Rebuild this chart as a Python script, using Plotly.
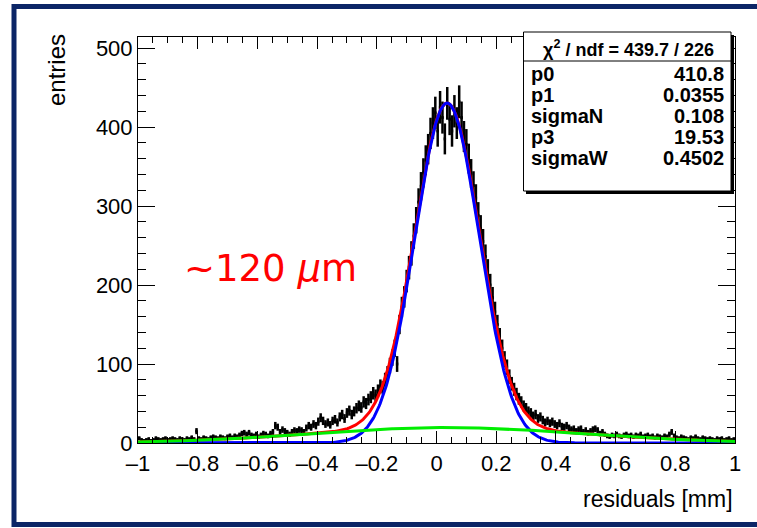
import numpy as np
import plotly.graph_objects as go

# ---------------- data ----------------
x_min, x_max, n_bins = -1.0, 1.0, 250
counts = [
    6, 4, 3, 4, 5, 3, 4, 6, 5, 4,
    5, 6, 4, 5, 6, 5, 4, 6, 5, 4,
    6, 5, 7, 5, 15, 6, 5, 7, 6, 5,
    7, 8, 7, 6, 8, 7, 6, 8, 9, 7,
    9, 8, 10, 12, 13, 11, 13, 10, 9, 11,
    8, 10, 12, 11, 9, 12, 14, 22, 20, 14,
    17, 15, 13, 11, 14, 16, 15, 17, 16, 14,
    19, 22, 20, 24, 22, 27, 32, 28, 24, 26,
    23, 28, 30, 26, 33, 36, 31, 38, 41, 36,
    40, 44, 47, 45, 52, 50, 55, 58, 63, 60,
    66, 72, 70, 80, 88, 98, 108, 120, 100, 150,
    172, 185, 205, 222, 240, 262, 282, 305, 325, 342,
    358, 372, 392, 405, 418, 395, 425, 412, 385, 430,
    410, 395, 420, 405, 432, 412, 388, 378, 360, 341,
    326, 310, 288, 272, 255, 236, 218, 200, 184, 166,
    150, 134, 120, 106, 96, 84, 75, 68, 62, 56,
    52, 47, 44, 40, 38, 34, 36, 31, 33, 29,
    26, 28, 25, 27, 24, 22, 25, 21, 20, 22,
    19, 17, 18, 15, 17, 18, 14, 16, 13, 15,
    17, 18, 16, 12, 14, 11, 9, 8, 10, 9,
    11, 9, 8, 10, 11, 9, 10, 8, 10, 9,
    11, 8, 9, 10, 8, 9, 7, 9, 8, 7,
    9, 8, 11, 14, 9, 7, 6, 8, 7, 6,
    5, 7, 6, 8, 6, 5, 7, 6, 5, 6,
    5, 4, 6, 5, 6, 4, 5, 6, 4, 5,
]

# fit parameters (from stats box)
p0 = 410.8
p1 = 0.0355
sigmaN = 0.108
p3 = 19.53
sigmaW = 0.4502

stat_header = "χ<sup>2</sup> / ndf = 439.7 / 226"
stat_names = ["p0", "p1", "sigmaN", "p3", "sigmaW"]
stat_values = ["410.8", "0.0355", "0.108", "19.53", "0.4502"]

x_ticks = [-1, -0.8, -0.6, -0.4, -0.2, 0, 0.2, 0.4, 0.6, 0.8, 1]
x_ticktext = ["\u20131", "\u20130.8", "\u20130.6", "\u20130.4", "\u20130.2", "0", "0.2", "0.4", "0.6", "0.8", "1"]
y_ticks = [0, 100, 200, 300, 400, 500]

# ---------------- derived ----------------
edges = np.linspace(x_min, x_max, n_bins + 1)
centers = 0.5 * (edges[:-1] + edges[1:])
cnt = np.array(counts, dtype=float)
err = np.sqrt(cnt)

xf = np.linspace(x_min, x_max, 600)
g_n = np.exp(-0.5 * ((xf - p1) / sigmaN) ** 2)
g_w = np.exp(-0.5 * ((xf - p1) / sigmaW) ** 2)
f_total = p0 * g_n + p3 * g_w
f_narrow = (p0 + p3) * g_n
f_wide = p3 * g_w

FONT = "Liberation Sans, Arial, Helvetica, sans-serif"

# plot-area geometry (pixels) for placing decorations
L, R, T, B = 138, 735, 37, 443
def px(x):
    return (x - L) / (R - L)
def py(y):
    return (B - y) / (B - T)

fig = go.Figure()

# histogram: horizontal bin lines + vertical error bars
hx, hy = [], []
for lo, hi, c in zip(edges[:-1], edges[1:], cnt):
    hx += [lo, hi, None]
    hy += [c, c, None]
fig.add_trace(go.Scatter(x=hx, y=hy, mode="lines",
                         line=dict(color="black", width=3), hoverinfo="skip"))
fig.add_trace(go.Scatter(x=centers, y=cnt, mode="markers",
                         marker=dict(size=2, color="black"),
                         error_y=dict(type="data", array=err, visible=True,
                                      color="black", thickness=2.5, width=0)))

fig.add_trace(go.Scatter(x=xf, y=f_total, mode="lines", line=dict(color="#ff0000", width=3)))
fig.add_trace(go.Scatter(x=xf, y=f_narrow, mode="lines", line=dict(color="#0000ff", width=3)))
fig.add_trace(go.Scatter(x=xf, y=f_wide, mode="lines", line=dict(color="#00ee00", width=3)))

shapes = []
# outer navy border
shapes.append(dict(type="rect", xref="paper", yref="paper",
                   x0=px(14), x1=px(762), y0=py(524.5), y1=py(6.5),
                   line=dict(color="#0b2566", width=5), fillcolor="rgba(0,0,0,0)", layer="above"))
# stats box shadow + box
shapes.append(dict(type="rect", xref="paper", yref="paper",
                   x0=px(526), x1=px(734), y0=py(194), y1=py(35),
                   line=dict(width=0), fillcolor="black", layer="above"))
shapes.append(dict(type="rect", xref="paper", yref="paper",
                   x0=px(523.5), x1=px(731), y0=py(191), y1=py(32),
                   line=dict(color="black", width=1), fillcolor="white", layer="above"))
shapes.append(dict(type="line", xref="paper", yref="paper",
                   x0=px(523.5), x1=px(731), y0=py(61), y1=py(61),
                   line=dict(color="black", width=1), layer="above"))

annotations = []
annotations.append(dict(xref="paper", yref="paper", x=px(628), y=py(48), text="<b>" + stat_header + "</b>",
                        showarrow=False, xanchor="center", yanchor="middle",
                        font=dict(family=FONT, size=18, color="black")))
row_y = [74, 95, 116, 137, 158]
for name, val, yy in zip(stat_names, stat_values, row_y):
    annotations.append(dict(xref="paper", yref="paper", x=px(529), y=py(yy), text="<b>" + name + "</b>",
                            showarrow=False, xanchor="left", yanchor="middle",
                            font=dict(family=FONT, size=20, color="black")))
    annotations.append(dict(xref="paper", yref="paper", x=px(726), y=py(yy), text="<b>" + val + "</b>",
                            showarrow=False, xanchor="right", yanchor="middle",
                            font=dict(family=FONT, size=20, color="black")))
# axis titles
annotations.append(dict(xref="paper", yref="paper", x=px(57), y=py(70), text="entries",
                        showarrow=False, textangle=-90, xanchor="center", yanchor="middle",
                        font=dict(family=FONT, size=24, color="black")))
annotations.append(dict(xref="paper", yref="paper", x=px(735), y=py(499), text="residuals [mm]",
                        showarrow=False, xanchor="right", yanchor="middle",
                        font=dict(family=FONT, size=23, color="black")))
# red label
annotations.append(dict(xref="paper", yref="paper", x=px(270), y=py(268), text="~120 <i>\u03bc</i>m",
                        showarrow=False, xanchor="center", yanchor="middle",
                        font=dict(family="DejaVu Sans, sans-serif", size=37, color="#ff0000")))

axis_common = dict(showline=True, linecolor="black", linewidth=1, mirror="ticks",
                   ticks="inside", tickcolor="black", showgrid=False, zeroline=False,
                   tickfont=dict(family=FONT, size=22, color="black"))

fig.update_layout(
    width=757, height=528,
    margin=dict(l=L, r=757 - R, t=T, b=528 - B),
    paper_bgcolor="white", plot_bgcolor="white",
    showlegend=False,
    shapes=shapes, annotations=annotations,
    xaxis=dict(range=[x_min, x_max], tickvals=x_ticks, ticktext=x_ticktext, ticklen=12,
               ticklabelstandoff=1,
               minor=dict(dtick=0.05, ticklen=6, ticks="inside", tickcolor="black"),
               **axis_common),
    yaxis=dict(range=[0, 514], tickvals=y_ticks, ticklen=17, ticklabelstandoff=0,
               minor=dict(dtick=20, ticklen=8, ticks="inside", tickcolor="black"),
               **axis_common),
)

fig.write_html("out.html", config={"displayModeBar": False},
               post_script="document.body.style.margin='0';")
